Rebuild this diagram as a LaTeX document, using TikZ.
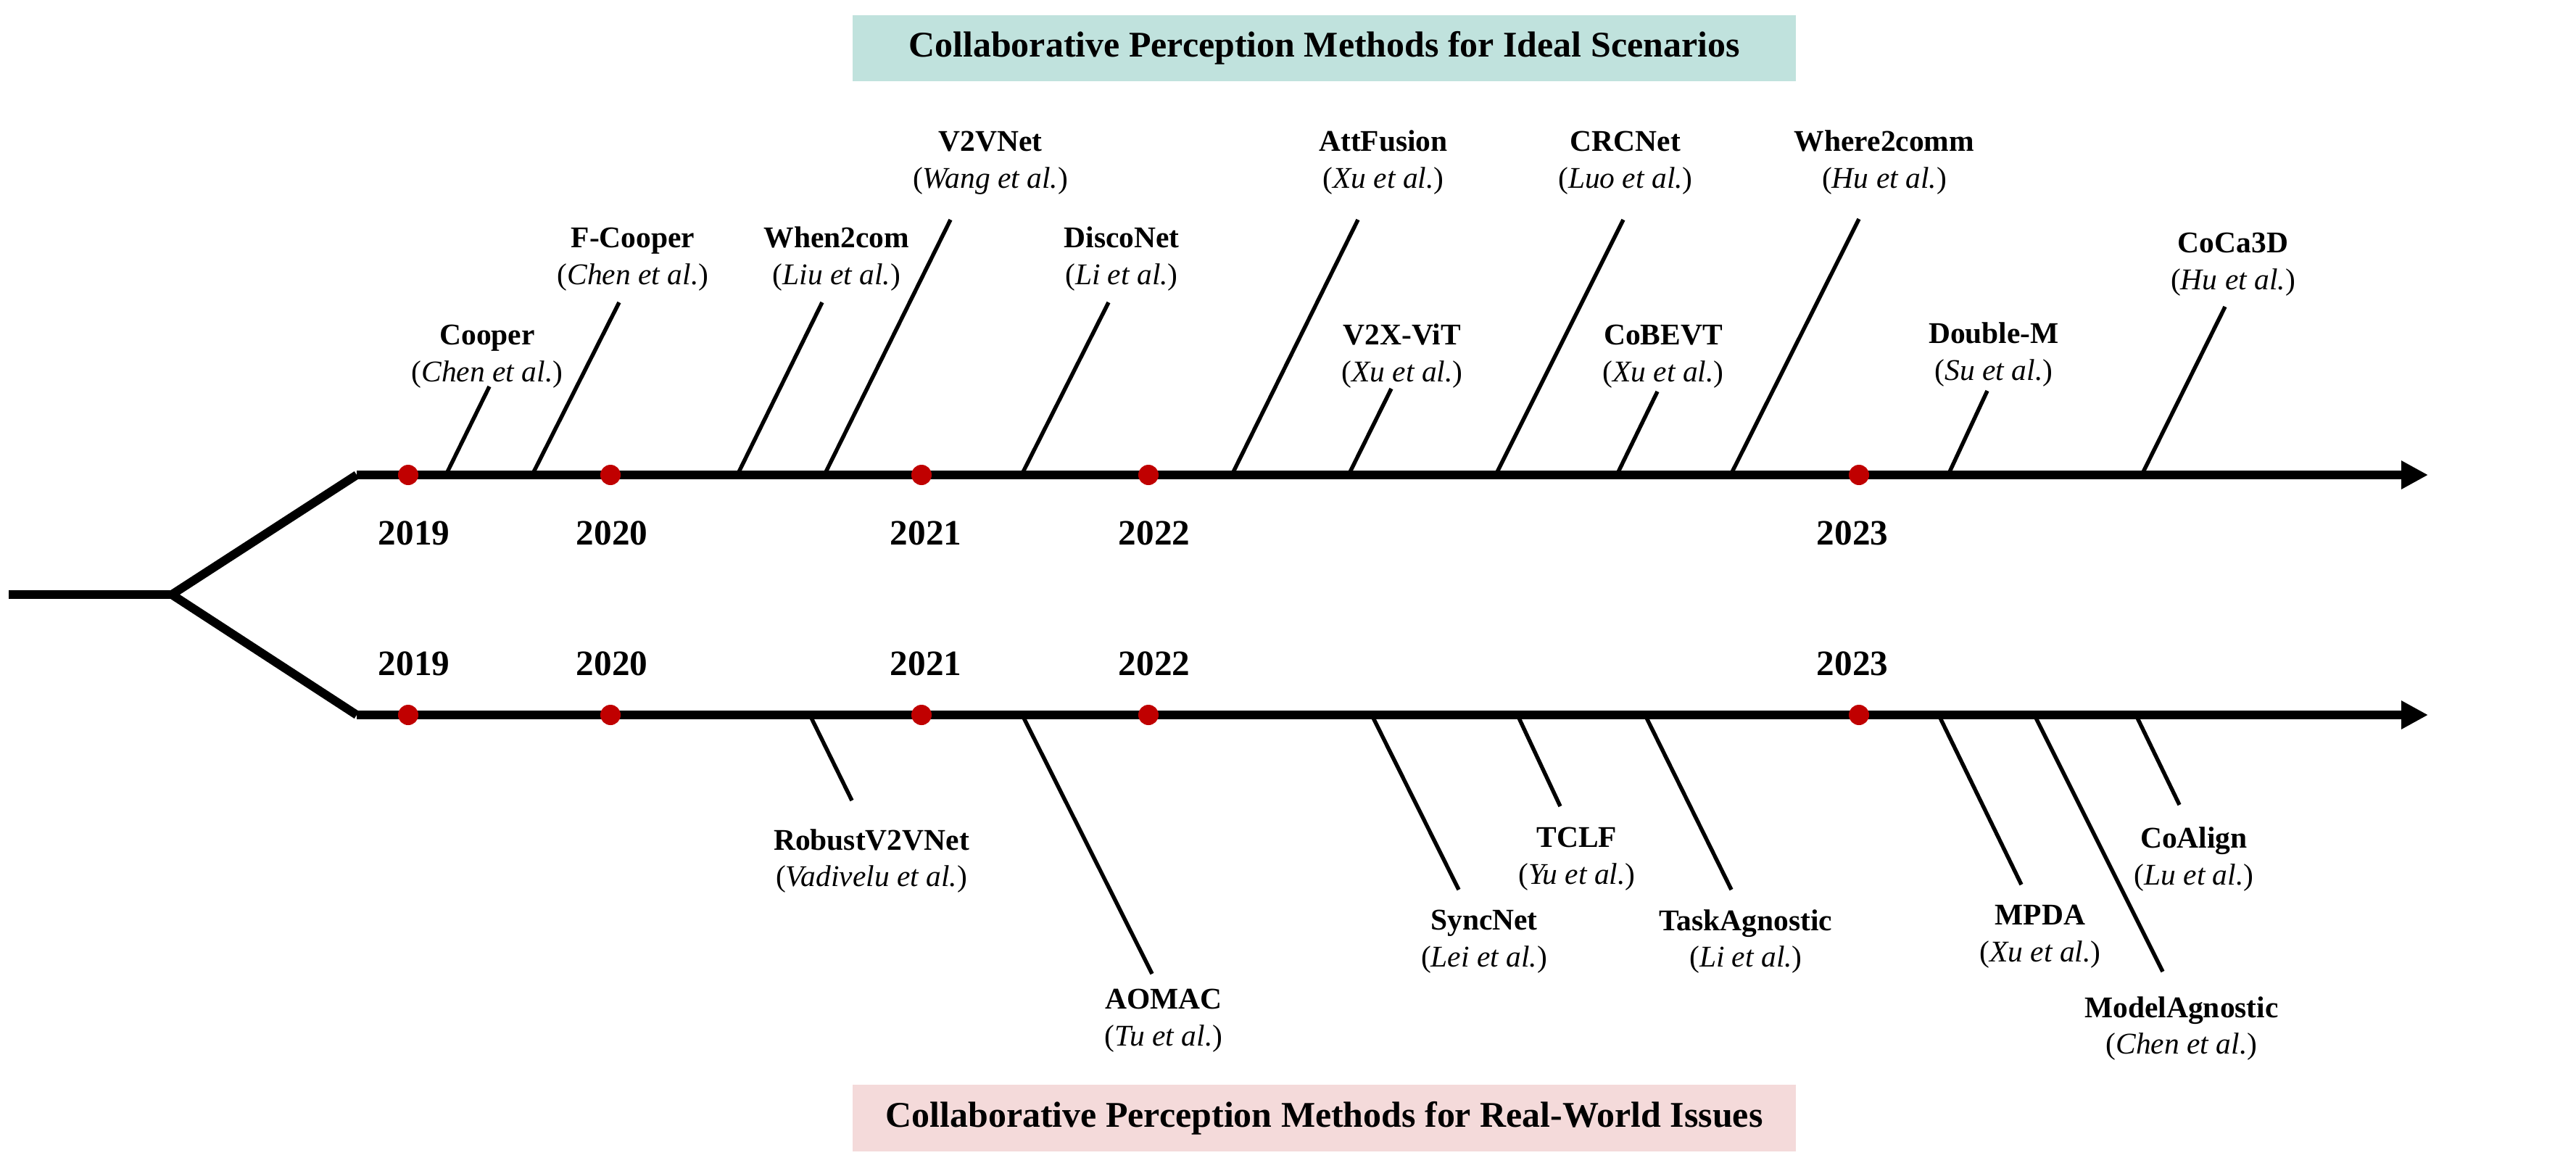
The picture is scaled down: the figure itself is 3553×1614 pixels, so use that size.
\documentclass[tikz,border=0pt]{standalone}
\usepackage{fontspec}
\setmainfont{Liberation Serif}
\usetikzlibrary{arrows.meta}
\definecolor{dotred}{HTML}{C00000}
\definecolor{idealbg}{HTML}{C0E2DD}
\definecolor{realbg}{HTML}{F4DADA}
\begin{document}
\begin{tikzpicture}[x=0.01cm,y=-0.01cm,
  axisline/.style={line width=3.4pt, line cap=butt},
  forkline/.style={line width=3.4pt, line cap=butt, line join=miter},
  branch/.style={line width=1.55pt},
  yeardot/.style={circle, fill=dotred, inner sep=0pt, minimum size=0.28cm},
  yearlbl/.style={font=\fontsize{14}{16}\selectfont\bfseries, inner sep=0pt},
  method/.style={align=center, font=\fontsize{11.8}{14.5}\selectfont, inner sep=0pt},
  titlebox/.style={minimum width=13.01cm, minimum height=0.91cm, inner sep=0pt,
                   font=\fontsize{14.2}{17}\selectfont\bfseries}
]
\useasboundingbox (0,0) rectangle (3553,1614);

% title boxes
\node[titlebox, fill=idealbg] (ideal) at (1826.5,66.5) {Collaborative Perception Methods for Ideal Scenarios};
\node[titlebox, fill=realbg] (real) at (1826.5,1542) {Collaborative Perception Methods for Real-World Issues};

% trunk and fork
\coordinate (stem) at (12,820);
\coordinate (fork) at (237,820);
\coordinate (ts) at (492,655);
\coordinate (te) at (3349,655);
\coordinate (bs) at (492,986);
\coordinate (be) at (3349,986);
\draw[axisline] (stem) -- (fork);
\draw[forkline] (ts) -- (fork) -- (bs);
\draw[axisline, -{Triangle[length=10.5pt,width=10.5pt]}] (ts) -- (te);
\draw[axisline, -{Triangle[length=10.5pt,width=10.5pt]}] (bs) -- (be);

% top labels
\node[method] (cooper) at (672,491.5) {\textbf{Cooper}\\(\textit{Chen et al.})};
\node[method] (fcooper) at (873,357.5) {\textbf{F-Cooper}\\(\textit{Chen et al.})};
\node[method] (when2com) at (1154,357.5) {\textbf{When2com}\\(\textit{Liu et al.})};
\node[method] (v2vnet) at (1366,224.5) {\textbf{V2VNet}\\(\textit{Wang et al.})};
\node[method] (disconet) at (1547,357.5) {\textbf{DiscoNet}\\(\textit{Li et al.})};
\node[method] (attfusion) at (1908,224.5) {\textbf{AttFusion}\\(\textit{Xu et al.})};
\node[method] (v2xvit) at (1934,491.5) {\textbf{V2X-ViT}\\(\textit{Xu et al.})};
\node[method] (crcnet) at (2242,224.5) {\textbf{CRCNet}\\(\textit{Luo et al.})};
\node[method] (cobevt) at (2294,491.5) {\textbf{CoBEVT}\\(\textit{Xu et al.})};
\node[method] (where2comm) at (2599,224.5) {\textbf{Where2comm}\\(\textit{Hu et al.})};
\node[method] (doublem) at (2750,489) {\textbf{Double-M}\\(\textit{Su et al.})};
\node[method] (coca3d) at (3080,364.5) {\textbf{CoCa3D}\\(\textit{Hu et al.})};

% top connectors
\foreach \n/\ax/\ex/\ey in {cooper/615/675/533, fcooper/734/854/417, when2com/1017/1134/417,
  v2vnet/1137/1311/303, disconet/1409/1529/417, attfusion/1699/1873/303, v2xvit/1860/1919/536,
  crcnet/2063/2239/303, cobevt/2230/2286/540, where2comm/2387/2564/302, doublem/2687/2741/539,
  coca3d/2954/3069/423}{
  \coordinate (\n-a) at (\ax,655);
  \coordinate (\n-e) at (\ex,\ey);
  \draw[branch] (\n-a) -- (\n-e);
}

% bottom labels
\node[method] (robustv2vnet) at (1202,1187.5) {\textbf{RobustV2VNet}\\(\textit{Vadivelu et al.})};
\node[method] (aomac) at (1605,1408) {\textbf{AOMAC}\\(\textit{Tu et al.})};
\node[method] (syncnet) at (2047,1298.5) {\textbf{SyncNet}\\(\textit{Lei et al.})};
\node[method] (tclf) at (2175,1185) {\textbf{TCLF}\\(\textit{Yu et al.})};
\node[method] (taskagnostic) at (2408,1298.5) {\textbf{TaskAgnostic}\\(\textit{Li et al.})};
\node[method] (mpda) at (2814,1291.5) {\textbf{MPDA}\\(\textit{Xu et al.})};
\node[method] (modelagnostic) at (3009,1418.5) {\textbf{ModelAgnostic}\\(\textit{Chen et al.})};
\node[method] (coalign) at (3026,1185) {\textbf{CoAlign}\\(\textit{Lu et al.})};

% bottom connectors
\foreach \n/\ax/\ex/\ey in {robustv2vnet/1117/1175/1104, aomac/1410/1589/1343, syncnet/1892/2012/1227,
  tclf/2093/2152/1112, taskagnostic/2269/2388/1227, mpda/2674/2788/1220,
  modelagnostic/2806/2983/1340, coalign/2946/3006/1110}{
  \coordinate (\n-a) at (\ax,986);
  \coordinate (\n-e) at (\ex,\ey);
  \draw[branch] (\n-a) -- (\n-e);
}

% year dots and labels
\foreach \yr/\dx/\lx in {2019/563/571, 2020/842/844, 2021/1271/1277, 2022/1584/1592, 2023/2564/2555}{
  \node[yeardot] (dt\yr) at (\dx,655) {};
  \node[yeardot] (db\yr) at (\dx,986) {};
  \node[yearlbl] (yt\yr) at (\lx,735) {\yr};
  \node[yearlbl] (yb\yr) at (\lx,915) {\yr};
}
\end{tikzpicture}
\end{document}
